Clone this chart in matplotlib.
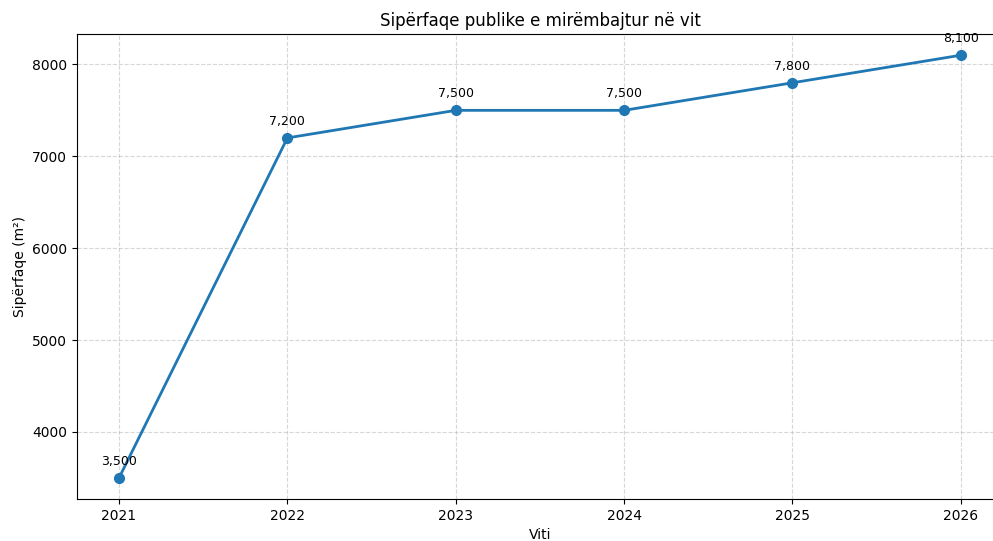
import matplotlib
matplotlib.use("Agg")
import matplotlib.pyplot as plt

years = [2021, 2022, 2023, 2024, 2025, 2026]
area = [3500, 7200, 7500, 7500, 7800, 8100]


def main():
    fig, ax = plt.subplots(figsize=(9.93, 5.41), dpi=100)
    ax.plot(years, area, marker="o", linewidth=2, markersize=7, color="#1f77b4")
    for x, y in zip(years, area):
        ax.annotate(f"{y:,}", (x, y), textcoords="offset points", xytext=(0, 9.5),
                    ha="center", fontsize=9)
    ax.set_title("Sipërfaqe publike e mirëmbajtur në vit", fontsize=12)
    ax.set_xlabel("Viti")
    ax.set_ylabel("Sipërfaqe (m²)")
    ax.set_xticks(years)
    ax.grid(True, linestyle="--", alpha=0.5)
    # right spine falls just outside the canvas, as in the reference
    fig.subplots_adjust(left=0.0775, right=1.010, top=0.937, bottom=0.0776)
    fig.savefig("out.png", dpi=100)


if __name__ == "__main__":
    main()
